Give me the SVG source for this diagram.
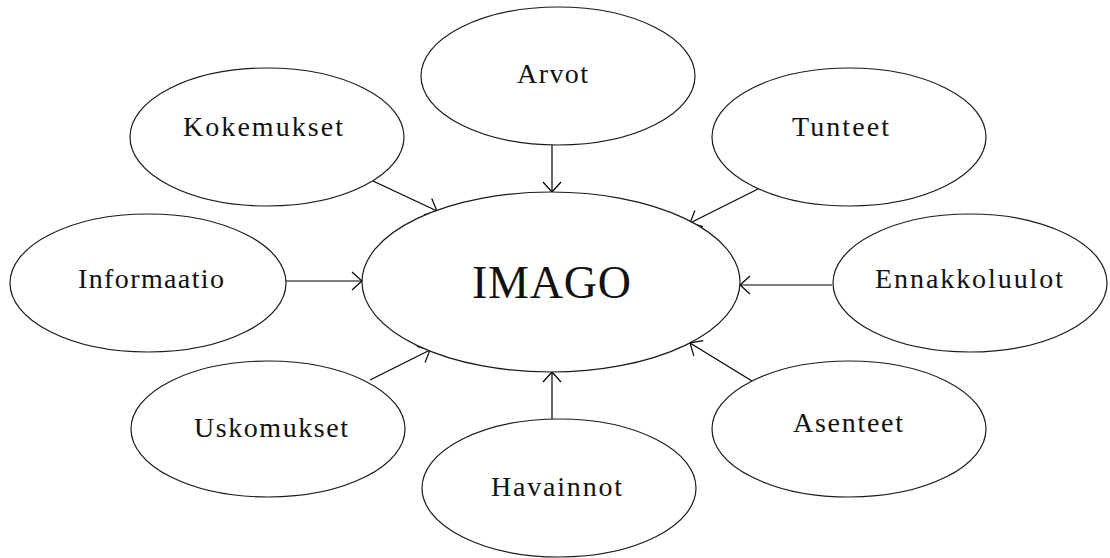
<svg xmlns="http://www.w3.org/2000/svg" width="1110" height="558" viewBox="0 0 1110 558">
<style>
.n ellipse{fill:#fff;stroke:#1a1a1a;stroke-width:1.2}
.n text{font-family:"Liberation Serif","Times New Roman",serif;font-size:28px;fill:#111}
#imago text{font-size:46px}
#edges line{stroke:#000;stroke-width:1.2;marker-end:url(#arr)}
</style>
<defs>
<marker id="arr" markerUnits="userSpaceOnUse" markerWidth="24" markerHeight="24" viewBox="-12 -12 24 24" refX="0" refY="0" orient="auto">
<path d="M-10,-9 L0,0 L-10,9" fill="none" stroke="#000" stroke-width="1.2"/>
</marker>
</defs>
<rect width="1110" height="558" fill="#fff"/>
<g id="edges">
<line x1="373" y1="181" x2="437" y2="211"/>
<line x1="552" y1="145" x2="552" y2="192"/>
<line x1="760" y1="188" x2="690" y2="223"/>
<line x1="286" y1="281" x2="362" y2="281"/>
<line x1="832" y1="285" x2="740" y2="285"/>
<line x1="370" y1="380" x2="430" y2="350"/>
<line x1="552" y1="419" x2="552" y2="372"/>
<line x1="752" y1="381" x2="690" y2="343"/>
</g>
<g id="kokemukset" class="n"><ellipse cx="267" cy="137" rx="137" ry="69"/><text x="183" y="136" textLength="160" lengthAdjust="spacing">Kokemukset</text></g>
<g id="arvot" class="n"><ellipse cx="558" cy="76" rx="137" ry="69"/><text x="517" y="83" textLength="71" lengthAdjust="spacing">Arvot</text></g>
<g id="tunteet" class="n"><ellipse cx="849" cy="137" rx="137" ry="69"/><text x="792" y="136" textLength="97" lengthAdjust="spacing">Tunteet</text></g>
<g id="informaatio" class="n"><ellipse cx="148" cy="283" rx="138" ry="69"/><text x="78" y="288" textLength="146" lengthAdjust="spacing">Informaatio</text></g>
<g id="imago" class="n"><ellipse cx="551" cy="282" rx="189" ry="90"/><text x="472" y="298" textLength="159" lengthAdjust="spacing">IMAGO</text></g>
<g id="ennakkoluulot" class="n"><ellipse cx="970" cy="283" rx="137" ry="69"/><text x="875" y="288" textLength="188" lengthAdjust="spacing">Ennakkoluulot</text></g>
<g id="uskomukset" class="n"><ellipse cx="268" cy="429" rx="137" ry="68"/><text x="194" y="437" textLength="154" lengthAdjust="spacing">Uskomukset</text></g>
<g id="havainnot" class="n"><ellipse cx="559" cy="488" rx="137" ry="69"/><text x="491" y="496" textLength="131" lengthAdjust="spacing">Havainnot</text></g>
<g id="asenteet" class="n"><ellipse cx="849" cy="429" rx="137" ry="68"/><text x="793" y="432" textLength="110" lengthAdjust="spacing">Asenteet</text></g>
</svg>
